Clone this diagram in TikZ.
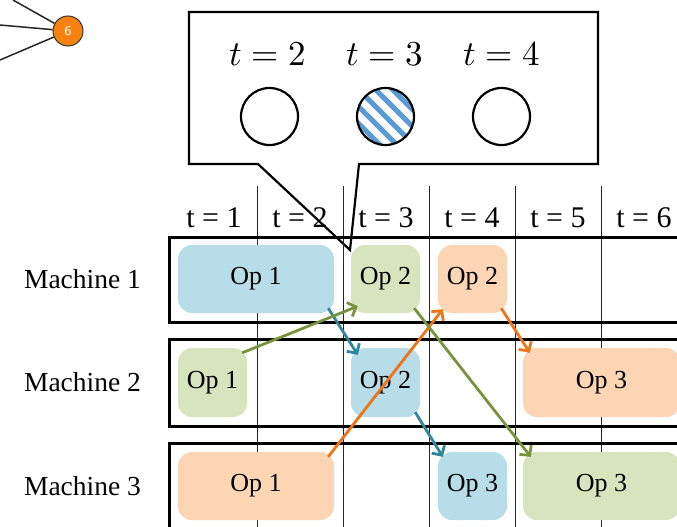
\documentclass[tikz,border=0pt]{standalone}
\usepackage{fontspec}
\usepackage{unicode-math}
\setmainfont{Liberation Serif}
\setsansfont{DejaVu Sans}
\setmathfont{Latin Modern Math}
\usetikzlibrary{calc,arrows.meta}
\definecolor{boxblue}{HTML}{B7DDE8}
\definecolor{boxgreen}{HTML}{D7E4BD}
\definecolor{boxorange}{HTML}{FCD5B5}
\definecolor{arrteal}{HTML}{31859C}
\definecolor{arrgreen}{HTML}{77933C}
\definecolor{arrorange}{HTML}{EE7418}
\definecolor{stripeblue}{HTML}{5B9BD5}
\definecolor{nodeorange}{HTML}{F7820F}
\tikzset{
  opbox/.style={rounded corners=14, inner sep=0, minimum height=68, draw=none,
    font=\fontsize{26}{26}\selectfont},
  one/.style={opbox, minimum width=69},
  two/.style={opbox, minimum width=156},
  rowbox/.style={line width=3},
  colline/.style={line width=1, black!85},
  hdr/.style={anchor=base, font=\fontsize{30}{30}\selectfont},
  mach/.style={anchor=base, font=\fontsize{27.5}{28}\selectfont},
  mathlbl/.style={anchor=base, font=\fontsize{35}{35}\selectfont},
  dep/.style={line width=2.8, -{Straight Barb[length=7,width=15,line width=2.8]}},
  slot/.style={circle, draw, line width=2.2, minimum size=57, inner sep=0},
  stripe/.style={stripeblue, line width=5},
}
\begin{document}
\begin{tikzpicture}[x=1pt,y=-1pt]
\useasboundingbox (0,0) rectangle (677,527);
\clip (0,0) rectangle (677,527);
% top-left graph fragment
\node[circle, draw=black!80, line width=1, fill=nodeorange, minimum size=30, inner sep=0,
  text=white, font=\sffamily\fontsize{12}{12}\selectfont] (n6) at (68,31) {6};
\coordinate (e1) at (13,0);
\coordinate (e2) at (0,25);
\coordinate (e3) at (0,60);
\foreach \e in {e1,e2,e3} \draw[line width=1.5, black!85] (\e) -- (n6);
% callout
\draw[line width=2.2, fill=white] (189,12) -- (598,12) -- (598,164) -- (359,164) -- (350,250)
  -- (258,164) -- (189,164) -- cycle;
\node[mathlbl] (ta) at (268,66) {$t=2$};
\node[mathlbl] (tb) at (385,66) {$t=3$};
\node[mathlbl] (tc) at (502,66) {$t=4$};
\node[slot] (ca) at (269.5,116.5) {};
\node[slot, path picture={
  \foreach \d in {-68,-51,...,68}
    \draw[stripe] ([xshift=\d]path picture bounding box.center) ++(-45,-45) -- ++(90,90);
  }] (cb) at (385.5,116.5) {};
\node[slot] (cc) at (501.5,116.5) {};
% column lines
\foreach \x in {257,343,429,515,601} \draw[colline] (\x,186) -- (\x,530);
% headers
\foreach \i/\x in {1/214,2/300,3/386,4/472,5/558,6/644}
  \node[hdr] (h\i) at (\x,227) {t = \i};
% rows
\draw[rowbox] (690,237) -- (169,237) -- (169,322) -- (690,322);
\draw[rowbox] (690,339) -- (169,339) -- (169,426) -- (690,426);
\draw[rowbox] (690,443) -- (169,443) -- (169,540);
\node[mach] (mA) at (82.5,288) {Machine 1};
\node[mach] (mB) at (82.5,391.5) {Machine 2};
\node[mach] (mC) at (82.5,495) {Machine 3};
% operations
\node[two, fill=boxblue] (m1op1) at (256,279) {Op 1};
\node[one, fill=boxgreen] (m1op2) at (385.5,279) {Op 2};
\node[one, fill=boxorange] (m1op2b) at (472.5,279) {Op 2};
\node[one, fill=boxgreen, minimum height=69] (m2op1) at (212.5,382.5) {Op 1};
\node[one, fill=boxblue, minimum height=69] (m2op2) at (385.5,382.5) {Op 2};
\node[opbox, fill=boxorange, minimum width=157, minimum height=69] (m2op3) at (601.5,382.5) {Op 3};
\node[two, fill=boxorange] (m3op1) at (256,486) {Op 1};
\node[one, fill=boxblue] (m3op3) at (472.5,486) {Op 3};
\node[opbox, fill=boxgreen, minimum width=157] (m3op3b) at (601.5,486) {Op 3};
% dependencies
\draw[dep, arrteal] ($(m1op1.south east)+(-6,-5)$) -- ($(m2op2.north west)+(7,7)$);
\draw[dep, arrgreen] ($(m2op1.north east)+(-5,5)$) -- ($(m1op2.south west)+(7,-7)$);
\draw[dep, arrteal] ($(m2op2.south east)+(-5,-5)$) -- ($(m3op3.north west)+(5,5)$);
\draw[dep, arrorange] ($(m3op1.north east)+(-6,5)$) -- ($(m1op2b.south west)+(5,-4)$);
\draw[dep, arrgreen] ($(m1op2.south east)+(-6,-5)$) -- ($(m3op3b.north west)+(8,5)$);
\draw[dep, arrorange] ($(m1op2b.south east)+(-6,-5)$) -- ($(m2op3.north west)+(7,5)$);
\end{tikzpicture}
\end{document}
